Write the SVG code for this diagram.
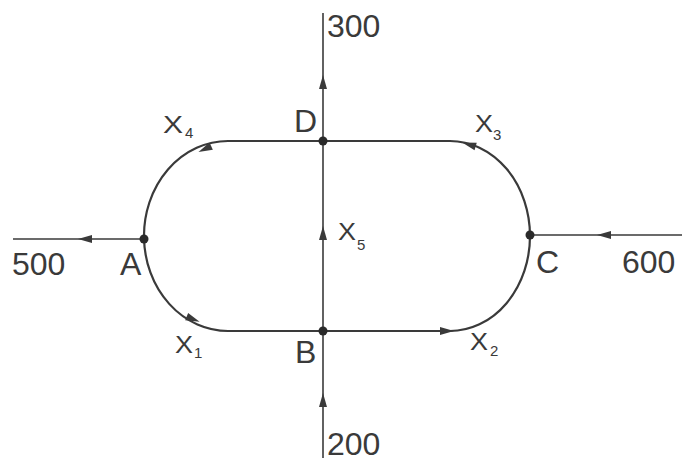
<svg xmlns="http://www.w3.org/2000/svg" width="685" height="463" viewBox="0 0 685 463">
<defs>
<style>
.ln{fill:none;stroke:#3a3a3a;stroke-width:2.2}
.thin{fill:none;stroke:#3a3a3a;stroke-width:1.6}
.ah{fill:#3a3a3a}
.t{font-family:"Liberation Sans",Arial,sans-serif;font-size:32px;fill:#3a3a3a}
.x{font-family:"Liberation Sans",Arial,sans-serif;font-size:23px;fill:#3a3a3a}
.s{font-family:"Liberation Sans",Arial,sans-serif;font-size:15px;fill:#3a3a3a}
.dot{fill:#2a2a2a}
</style>
<path id="arr" d="M-9,-4 L5,0 L-9,4 Z"/>
</defs>
<g id="connectors">
<path class="ln" d="M323,141 L228,141 A84,95 0 0 0 144,238 A84,95 0 0 0 228,331 L323,331"/>
<path class="ln" d="M323,141 L450,141 A80,95 0 0 1 530,236 A80,95 0 0 1 450,331 L323,331"/>
<path class="thin" d="M323,13 L323,458"/>
<path class="thin" d="M13,239 L144,239"/>
<path class="thin" d="M530,235 L682,235"/>
<use href="#arr" class="ah" transform="translate(323,80) rotate(-90)"/>
<use href="#arr" class="ah" transform="translate(323,231) rotate(-90)"/>
<use href="#arr" class="ah" transform="translate(323,398) rotate(-90)"/>
<use href="#arr" class="ah" transform="translate(83,239) rotate(180)"/>
<use href="#arr" class="ah" transform="translate(602,235) rotate(180)"/>
<use href="#arr" class="ah" transform="translate(203,150) rotate(155)"/>
<use href="#arr" class="ah" transform="translate(467,144) rotate(196)"/>
<use href="#arr" class="ah" transform="translate(195,320) rotate(22)"/>
<use href="#arr" class="ah" transform="translate(449,331) rotate(0)"/>
</g>
<g id="A"><circle class="dot" cx="144" cy="239" r="4.5"/><text class="t" x="120" y="275">A</text></g>
<g id="B"><circle class="dot" cx="323" cy="331" r="4.5"/><text class="t" x="295" y="363">B</text></g>
<g id="C"><circle class="dot" cx="530" cy="235" r="4.5"/><text class="t" x="536" y="273">C</text></g>
<g id="D"><circle class="dot" cx="323" cy="141" r="4.5"/><text class="t" x="294" y="132">D</text></g>
<g id="labels">
<text class="t" x="327" y="37">300</text>
<text class="t" x="327" y="455">200</text>
<text class="t" x="12" y="275">500</text>
<text class="t" x="622" y="273">600</text>
<text class="x" x="163" y="133" textLength="20" lengthAdjust="spacingAndGlyphs">X</text><text class="s" x="185" y="138">4</text>
<text class="x" x="475" y="132" textLength="18" lengthAdjust="spacingAndGlyphs">X</text><text class="s" x="493" y="140">3</text>
<text class="x" x="338" y="240" textLength="18" lengthAdjust="spacingAndGlyphs">X</text><text class="s" x="357" y="250">5</text>
<text class="x" x="175" y="353" textLength="18" lengthAdjust="spacingAndGlyphs">X</text><text class="s" x="194" y="358">1</text>
<text class="x" x="470" y="350" textLength="18" lengthAdjust="spacingAndGlyphs">X</text><text class="s" x="490" y="356">2</text>
</g>
</svg>
